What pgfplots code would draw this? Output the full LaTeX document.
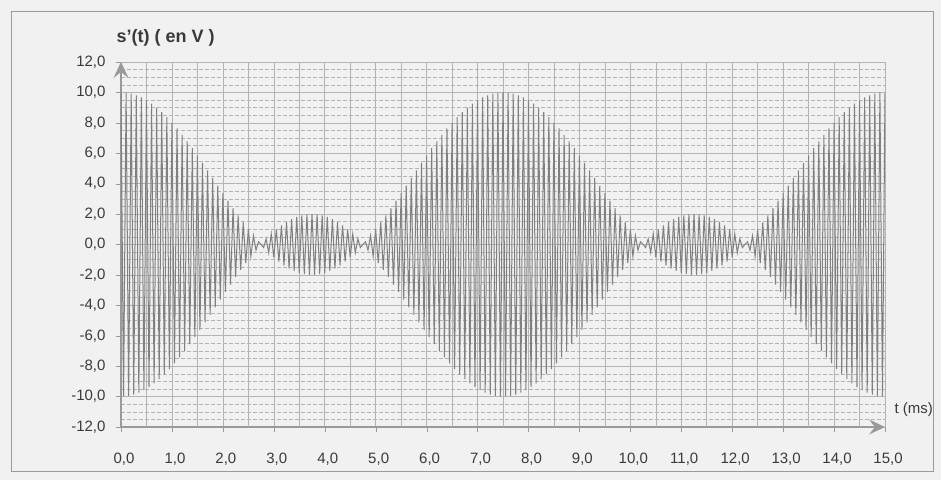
\documentclass[border=0pt]{standalone}
\usepackage{pgfplots}
\pgfplotsset{compat=1.18}
\usetikzlibrary{arrows.meta}
\usepackage{fontspec}
\setmainfont{Liberation Sans}
\definecolor{bg}{HTML}{F1F1F1}
\definecolor{sig}{HTML}{808080}
\definecolor{gridc}{HTML}{B4B4B4}
\definecolor{axc}{HTML}{9A9A9A}
\definecolor{txt}{HTML}{3A3A3A}
\begin{document}
\begin{tikzpicture}[x=1pt,y=1pt]
\useasboundingbox (-121,-53) rectangle (820,427);
\fill[bg] (-121,-53) rectangle (820,427);
\draw[axc,line width=0.9pt] (-110,-44) rectangle (812,416);
\begin{axis}[
  at={(0,0)}, anchor=south west,
  scale only axis, width=764pt, height=365pt,
  xmin=0, xmax=15, ymin=-12, ymax=12,
  axis x line=bottom, axis y line=left,
  axis line style={axc, line width=1.3pt, -{Stealth[length=16pt,width=15pt,inset=6pt]}},
  xtick={0,1,...,15}, ytick={-12,-10,...,12},
  minor x tick num=0, minor y tick num=3,
  extra x ticks={0.5,1.5,...,14.5}, extra x tick labels={},
  extra x tick style={major tick length=0pt},
  xmajorgrids=true, ymajorgrids=true, yminorgrids=true, xminorgrids=false,
  major grid style={gridc, line width=0.6pt},
  minor grid style={gridc, line width=0.5pt, dash pattern=on 4pt off 2pt},
  tick style={axc}, major tick length=5pt, minor tick length=0pt,
  tick align=outside,
  xticklabel style={font=\fontsize{15}{17}\selectfont, text=txt, yshift=-17pt, xshift=3pt},
  yticklabel style={font=\fontsize{15}{17}\selectfont, text=txt, xshift=-7pt},
  /pgf/number format/.cd, fixed, fixed zerofill, precision=1, use comma, assume math mode=true,
]
\addplot[sig, line width=1pt] coordinates {
(0.00,10.00)(0.05,-9.99)(0.10,9.98)(0.15,-9.95)(0.20,9.92)(0.25,-9.87)(0.30,9.81)(0.35,-9.74)(0.40,9.67)(0.45,-9.58)
(0.50,9.48)(0.55,-9.37)(0.60,9.26)(0.65,-9.13)(0.70,9.00)(0.75,-8.85)(0.80,8.70)(0.85,-8.54)(0.90,8.37)(0.95,-8.20)
(1.00,8.01)(1.05,-7.82)(1.10,7.63)(1.15,-7.42)(1.20,7.21)(1.25,-7.00)(1.30,6.78)(1.35,-6.55)(1.40,6.33)(1.45,-6.09)
(1.50,5.85)(1.55,-5.61)(1.60,5.37)(1.65,-5.12)(1.70,4.88)(1.75,-4.63)(1.80,4.38)(1.85,-4.13)(1.90,3.87)(1.95,-3.62)
(2.00,3.37)(2.05,-3.12)(2.10,2.88)(2.15,-2.63)(2.20,2.39)(2.25,-2.15)(2.30,1.91)(2.35,-1.67)(2.40,1.45)(2.45,-1.22)
(2.50,1.00)(2.55,-0.79)(2.60,0.58)(2.65,-0.37)(2.70,0.18)(2.75,0.01)(2.80,-0.20)(2.85,0.37)(2.90,-0.54)(2.95,0.70)
(3.00,-0.85)(3.05,1.00)(3.10,-1.13)(3.15,1.26)(3.20,-1.37)(3.25,1.48)(3.30,-1.58)(3.35,1.67)(3.40,-1.74)(3.45,1.81)
(3.50,-1.87)(3.55,1.92)(3.60,-1.95)(3.65,1.98)(3.70,-1.99)(3.75,2.00)(3.80,-1.99)(3.85,1.98)(3.90,-1.95)(3.95,1.92)
(4.00,-1.87)(4.05,1.81)(4.10,-1.74)(4.15,1.67)(4.20,-1.58)(4.25,1.48)(4.30,-1.37)(4.35,1.26)(4.40,-1.13)(4.45,1.00)
(4.50,-0.85)(4.55,0.70)(4.60,-0.54)(4.65,0.37)(4.70,-0.20)(4.75,0.01)(4.80,0.18)(4.85,-0.37)(4.90,0.58)(4.95,-0.79)
(5.00,1.00)(5.05,-1.22)(5.10,1.45)(5.15,-1.67)(5.20,1.91)(5.25,-2.15)(5.30,2.39)(5.35,-2.63)(5.40,2.88)(5.45,-3.12)
(5.50,3.37)(5.55,-3.62)(5.60,3.87)(5.65,-4.13)(5.70,4.38)(5.75,-4.63)(5.80,4.88)(5.85,-5.12)(5.90,5.37)(5.95,-5.61)
(6.00,5.85)(6.05,-6.09)(6.10,6.33)(6.15,-6.55)(6.20,6.78)(6.25,-7.00)(6.30,7.21)(6.35,-7.42)(6.40,7.63)(6.45,-7.82)
(6.50,8.01)(6.55,-8.20)(6.60,8.37)(6.65,-8.54)(6.70,8.70)(6.75,-8.85)(6.80,9.00)(6.85,-9.13)(6.90,9.26)(6.95,-9.37)
(7.00,9.48)(7.05,-9.58)(7.10,9.67)(7.15,-9.74)(7.20,9.81)(7.25,-9.87)(7.30,9.92)(7.35,-9.95)(7.40,9.98)(7.45,-9.99)
(7.50,10.00)
(7.55,-9.99)(7.60,9.98)(7.65,-9.95)(7.70,9.92)(7.75,-9.87)(7.80,9.81)(7.85,-9.74)(7.90,9.67)(7.95,-9.58)
(8.00,9.48)(8.05,-9.37)(8.10,9.26)(8.15,-9.13)(8.20,9.00)(8.25,-8.85)(8.30,8.70)(8.35,-8.54)(8.40,8.37)(8.45,-8.20)
(8.50,8.01)(8.55,-7.82)(8.60,7.63)(8.65,-7.42)(8.70,7.21)(8.75,-7.00)(8.80,6.78)(8.85,-6.55)(8.90,6.33)(8.95,-6.09)
(9.00,5.85)(9.05,-5.61)(9.10,5.37)(9.15,-5.12)(9.20,4.88)(9.25,-4.63)(9.30,4.38)(9.35,-4.13)(9.40,3.87)(9.45,-3.62)
(9.50,3.37)(9.55,-3.12)(9.60,2.88)(9.65,-2.63)(9.70,2.39)(9.75,-2.15)(9.80,1.91)(9.85,-1.67)(9.90,1.45)(9.95,-1.22)
(10.00,1.00)(10.05,-0.79)(10.10,0.58)(10.15,-0.37)(10.20,0.18)(10.25,0.01)(10.30,-0.20)(10.35,0.37)(10.40,-0.54)(10.45,0.70)
(10.50,-0.85)(10.55,1.00)(10.60,-1.13)(10.65,1.26)(10.70,-1.37)(10.75,1.48)(10.80,-1.58)(10.85,1.67)(10.90,-1.74)(10.95,1.81)
(11.00,-1.87)(11.05,1.92)(11.10,-1.95)(11.15,1.98)(11.20,-1.99)(11.25,2.00)(11.30,-1.99)(11.35,1.98)(11.40,-1.95)(11.45,1.92)
(11.50,-1.87)(11.55,1.81)(11.60,-1.74)(11.65,1.67)(11.70,-1.58)(11.75,1.48)(11.80,-1.37)(11.85,1.26)(11.90,-1.13)(11.95,1.00)
(12.00,-0.85)(12.05,0.70)(12.10,-0.54)(12.15,0.37)(12.20,-0.20)(12.25,0.01)(12.30,0.18)(12.35,-0.37)(12.40,0.58)(12.45,-0.79)
(12.50,1.00)(12.55,-1.22)(12.60,1.45)(12.65,-1.67)(12.70,1.91)(12.75,-2.15)(12.80,2.39)(12.85,-2.63)(12.90,2.88)(12.95,-3.12)
(13.00,3.37)(13.05,-3.62)(13.10,3.87)(13.15,-4.13)(13.20,4.38)(13.25,-4.63)(13.30,4.88)(13.35,-5.12)(13.40,5.37)(13.45,-5.61)
(13.50,5.85)(13.55,-6.09)(13.60,6.33)(13.65,-6.55)(13.70,6.78)(13.75,-7.00)(13.80,7.21)(13.85,-7.42)(13.90,7.63)(13.95,-7.82)
(14.00,8.01)(14.05,-8.20)(14.10,8.37)(14.15,-8.54)(14.20,8.70)(14.25,-8.85)(14.30,9.00)(14.35,-9.13)(14.40,9.26)(14.45,-9.37)
(14.50,9.48)(14.55,-9.58)(14.60,9.67)(14.65,-9.74)(14.70,9.81)(14.75,-9.87)(14.80,9.92)(14.85,-9.95)(14.90,9.98)(14.95,-9.99)
(15.00,10.00)
};
\end{axis}
\node[anchor=west, text=txt, font=\fontsize{18}{20}\bfseries] at (-8,389) {s{\char"27}(t) ( en V )};
\node[anchor=west, text=txt, font=\fontsize{15}{17}\selectfont] at (770,17) {t (ms)};
\end{tikzpicture}
\end{document}
